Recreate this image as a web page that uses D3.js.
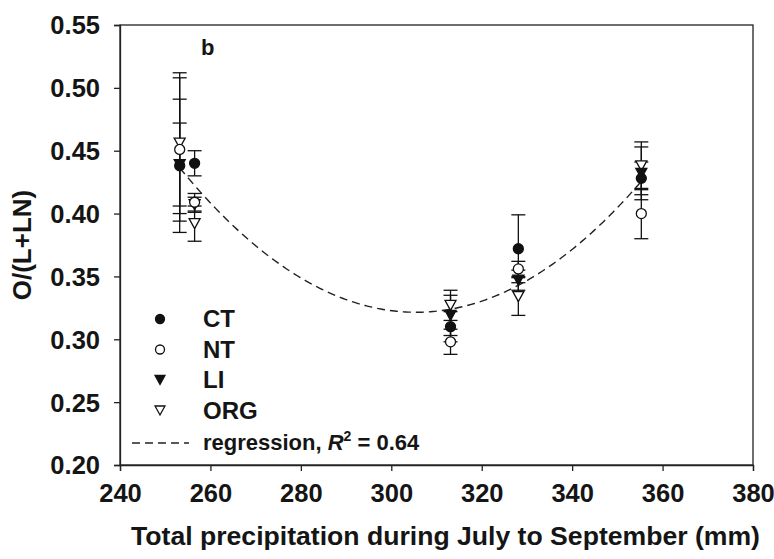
<!DOCTYPE html>
<html>
<head>
<meta charset="utf-8">
<script src="https://cdn.jsdelivr.net/npm/d3@7"></script>
<style>
  body { margin: 0; background: #fff; }
  text { font-family: "Liberation Sans", Arial, sans-serif; font-weight: bold; fill: #151515; }
</style>
</head>
<body>
<svg id="chart" width="774" height="559"></svg>
<script>
// precipitation Jul-Sep (mm) for each year
var precip = [253.2, 256.5, 313.1, 328.1, 355.3];

// O/(L+LN) means and error bars per treatment
var ctMean  = [0.438, 0.440, 0.310, 0.372, 0.428];
var ctErr   = [0.053, 0.010, 0.012, 0.027, 0.013];
var ntMean  = [0.451, 0.409, 0.298, 0.356, 0.400];
var ntErr   = [0.057, 0.007, 0.010, 0.006, 0.020];
var liMean  = [0.439, 0.407, 0.319, 0.347, 0.432];
var liErr   = [0.033, 0.006, 0.016, 0.008, 0.021];
var orgMean = [0.456, 0.392, 0.327, 0.334, 0.438];
var orgErr  = [0.056, 0.014, 0.012, 0.015, 0.019];

// quadratic regression, vertex form: a, h, c  (y = a*(x-h)^2 + c)
var regCoef = [4.2e-5, 305.5, 0.3215];
var regRange = [253.2, 355.3];

var xTicks = [240, 260, 280, 300, 320, 340, 360, 380];
var yTicks = [0.20, 0.25, 0.30, 0.35, 0.40, 0.45, 0.50, 0.55];

var series = [
  { name: "ORG", mean: orgMean, err: orgErr, shape: "tri", fill: "#fff" },
  { name: "LI",  mean: liMean,  err: liErr,  shape: "tri", fill: "#111" },
  { name: "NT",  mean: ntMean,  err: ntErr,  shape: "circle", fill: "#fff" },
  { name: "CT",  mean: ctMean,  err: ctErr,  shape: "circle", fill: "#111" }
];

var svg = d3.select("#chart");
var pLeft = 120, pRight = 753, pTop = 25, pBottom = 465;

var x = d3.scaleLinear().domain([240, 380]).range([pLeft, pRight]);
var y = d3.scaleLinear().domain([0.20, 0.55]).range([pBottom, pTop]);

// frame
svg.append("rect")
  .attr("x", pLeft).attr("y", pTop)
  .attr("width", pRight - pLeft).attr("height", pBottom - pTop)
  .attr("fill", "none").attr("stroke", "#222").attr("stroke-width", 1.3);

// axes
var xAxis = svg.append("g")
  .attr("transform", "translate(0," + pBottom + ")")
  .call(d3.axisBottom(x).tickValues(xTicks).tickSize(6).tickPadding(13).tickFormat(d3.format("d")));
var yAxis = svg.append("g")
  .attr("transform", "translate(" + pLeft + ",0)")
  .call(d3.axisLeft(y).tickValues(yTicks).tickSize(6).tickPadding(14).tickFormat(d3.format(".2f")));

[xAxis, yAxis].forEach(function(g) {
  g.select(".domain").attr("stroke", "#222").attr("stroke-width", 1.3);
  g.selectAll(".tick line").attr("stroke", "#222").attr("stroke-width", 1.3);
  g.selectAll(".tick text")
    .attr("fill", "#151515")
    .style("font-size", "25.5px")
    .style("font-family", "'Liberation Sans', Arial, sans-serif")
    .style("font-weight", "bold");
});
yAxis.selectAll(".tick text").attr("dy", "0.35em");

// axis titles
svg.append("text")
  .attr("x", (pLeft + pRight) / 2 + 9).attr("y", 545)
  .attr("text-anchor", "middle")
  .style("font-size", "26.6px")
  .text("Total precipitation during July to September (mm)");

svg.append("text")
  .attr("transform", "translate(31," + ((pTop + pBottom) / 2) + ") rotate(-90)")
  .attr("text-anchor", "middle")
  .style("font-size", "26px")
  .text("O/(L+LN)");

// panel label
svg.append("text")
  .attr("x", 201).attr("y", 55)
  .style("font-size", "22px")
  .text("b");

// regression curve
var regLine = d3.line()
  .x(function(d) { return x(d); })
  .y(function(d) { return y(regCoef[0] * Math.pow(d - regCoef[1], 2) + regCoef[2]); });
var regX = d3.range(regRange[0], regRange[1] + 0.01, 0.5);
svg.append("path")
  .attr("d", regLine(regX))
  .attr("fill", "none")
  .attr("stroke", "#222")
  .attr("stroke-width", 1.4)
  .attr("stroke-dasharray", "8,5");

function symbolPath(shape, s) {
  if (shape == "circle") {
    return d3.symbol().type(d3.symbolCircle).size(Math.PI * s * s)();
  }
  // downward triangle
  var w = s * 1.1, h = s * 1.0;
  return "M" + (-w) + "," + (-h) + "L" + w + "," + (-h) + "L0," + h + "Z";
}

// error bars
series.forEach(function(s) {
  var g = svg.append("g").attr("class", "err");
  precip.forEach(function(p, i) {
    var px = x(p), hi = y(s.mean[i] + s.err[i]), lo = y(s.mean[i] - s.err[i]);
    g.append("line").attr("x1", px).attr("x2", px).attr("y1", hi).attr("y2", lo);
    g.append("line").attr("x1", px - 7).attr("x2", px + 7).attr("y1", hi).attr("y2", hi);
    g.append("line").attr("x1", px - 7).attr("x2", px + 7).attr("y1", lo).attr("y2", lo);
  });
  g.selectAll("line").attr("stroke", "#111").attr("stroke-width", 1.3);
});

// markers
series.forEach(function(s) {
  svg.append("g")
    .selectAll("path")
    .data(s.mean)
    .enter()
    .append("path")
    .attr("transform", function(d, i) { return "translate(" + x(precip[i]) + "," + y(d) + ")"; })
    .attr("d", symbolPath(s.shape, 5))
    .attr("fill", s.fill)
    .attr("stroke", "#111")
    .attr("stroke-width", 1.3);
});

// legend
var legendOrder = ["CT", "NT", "LI", "ORG"];
var legend = svg.append("g");
legendOrder.forEach(function(name, i) {
  var s = series.find(function(d) { return d.name == name; });
  var by = 327 + i * 30.5;
  legend.append("path")
    .attr("transform", "translate(160," + (by - 8) + ")")
    .attr("d", symbolPath(s.shape, 4.5))
    .attr("fill", s.fill)
    .attr("stroke", "#111")
    .attr("stroke-width", 1.3);
  legend.append("text")
    .attr("x", 203).attr("y", by)
    .style("font-size", "24px")
    .text(name);
});

legend.append("line")
  .attr("x1", 132).attr("x2", 189)
  .attr("y1", 443).attr("y2", 443)
  .attr("stroke", "#222").attr("stroke-width", 1.4)
  .attr("stroke-dasharray", "8,5");

var regText = legend.append("text")
  .attr("x", 203).attr("y", 450)
  .style("font-size", "22px");
regText.append("tspan").text("regression, ");
regText.append("tspan").style("font-style", "italic").text("R");
regText.append("tspan").attr("dy", -9).style("font-size", "14px").text("2");
regText.append("tspan").attr("dy", 9).text(" = 0.64");
</script>
</body>
</html>
